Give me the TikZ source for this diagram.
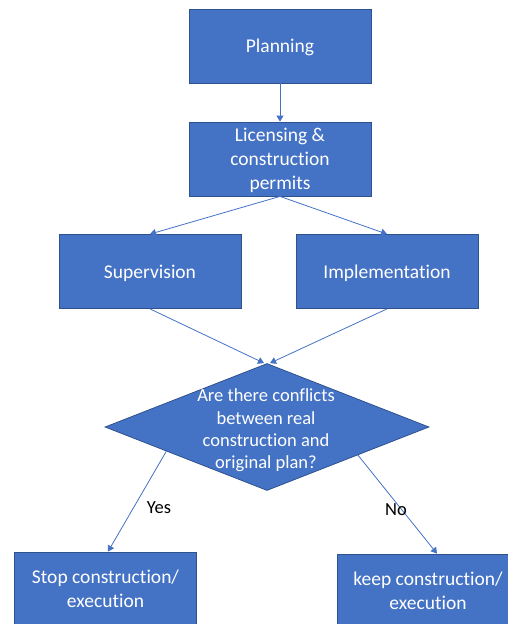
\documentclass[tikz,border=0pt]{standalone}
\usepackage{fontspec}
\setmainfont[Ligatures=CommonOff]{Carlito}
\usetikzlibrary{shapes.geometric,arrows.meta,calc}
\definecolor{boxfill}{HTML}{4472C4}
\definecolor{boxline}{HTML}{2F528F}
\definecolor{arrowc}{HTML}{4472C4}
\tikzset{
 box/.style={draw=boxline, line width=0.8pt, fill=boxfill, text=white, minimum width=182pt, minimum height=74pt, inner sep=0pt, text depth=0pt, align=center, font=\fontsize{19.5}{24}\selectfont},
 conn/.style={draw=arrowc, line width=0.8pt, -{Triangle[width=7pt,length=6pt]}},
 lbl/.style={text=black, font=\fontsize{18.5}{22}\selectfont, inner sep=0pt}
}
\begin{document}
\begin{tikzpicture}[x=1pt,y=-1pt]
\useasboundingbox (0,0) rectangle (508,624);
\clip (0,0) rectangle (508,624);
\node[box] (plan) at (280,46) {Planning};
\node[box] (lic) at (280,159) {Licensing \&\\construction\\permits};
\node[box] (sup) at (150,271.5) {Supervision};
\node[box] (imp) at (387,271.5) {Implementation};
\node[diamond, draw=boxline, fill=boxfill, line width=0.8pt, minimum width=324pt, minimum height=127pt, inner sep=0pt] (dec) at (267,427) {};
\node[text=white, align=center, inner sep=0pt, font=\fontsize{18.5}{22.4}\selectfont] (dectext) at (266,430.5) {Are there conflicts\\between real\\construction and\\original plan?};
\node[box] (stop) at (105.5,589) {Stop construction/\\execution};
\node[box] (keep) at (428,591) {keep construction/\\execution};
\coordinate (ys) at ($(dec.west)!0.38!(dec.south)$);
\coordinate (ns) at ($(dec.east)!0.44!(dec.south)$);
\draw[conn] (plan.south) -- (lic.north);
\draw[conn] (lic.south) -- (sup.north);
\draw[conn] (lic.south) -- (imp.north);
\draw[conn] (sup.south) -- ($(dec.north)+(-3,0)$);
\draw[conn] (imp.south) -- ($(dec.north)+(3,0)$);
\draw[conn] (ys) -- ($(stop.north)+(2.5,0)$);
\draw[conn] (ns) -- ($(keep.north)+(9,0)$);
\node[lbl] (yes) at (159,508) {Yes};
\node[lbl] (no) at (396,510) {No};
\end{tikzpicture}
\end{document}
